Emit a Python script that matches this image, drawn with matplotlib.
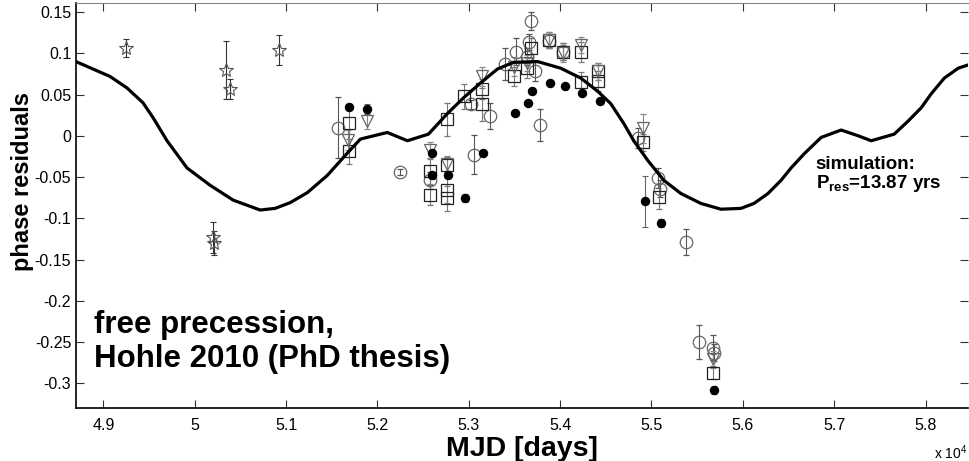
import matplotlib
matplotlib.use("Agg")
import matplotlib.pyplot as plt

plt.rcParams['font.family'] = ['Liberation Sans', 'DejaVu Sans']
plt.rcParams['mathtext.fontset'] = 'custom'
plt.rcParams['mathtext.rm'] = 'Liberation Sans:bold'

# simulation curve (P_res = 13.87 yrs)
sim_mjd = [48698, 49071, 49258, 49433, 49543, 49696, 49915, 50168, 50420, 50716,
           50880, 51045, 51231, 51451, 51670, 51813, 52032, 52108, 52328, 52558,
           52766, 52942, 53128, 53314, 53490, 53753, 54005, 54225, 54411, 54554,
           54696, 54806, 54960, 55135, 55322, 55541, 55760, 55980, 56122, 56275,
           56418, 56528, 56670, 56857, 57076, 57263, 57405, 57657, 57811, 57953,
           58063, 58206, 58359, 58469]
sim_res = [0.090, 0.072, 0.058, 0.040, 0.022, -0.006, -0.039, -0.060, -0.078, -0.090,
           -0.088, -0.081, -0.069, -0.048, -0.021, -0.004, 0.002, 0.004, -0.006, 0.002,
           0.027, 0.046, 0.064, 0.081, 0.089, 0.090, 0.082, 0.070, 0.054, 0.039,
           0.015, -0.006, -0.030, -0.054, -0.070, -0.082, -0.089, -0.088, -0.082, -0.070,
           -0.054, -0.039, -0.022, -0.002, 0.007, 0.000, -0.006, 0.002, 0.018, 0.034,
           0.051, 0.070, 0.082, 0.086]

# stars
star_mjd = [49247, 50197, 50212, 50343, 50387, 50917]
star_res = [0.106, -0.123, -0.130, 0.080, 0.057, 0.104]
star_err = [0.011, 0.019, 0.015, 0.035, 0.012, 0.018]

# open circles
circ_mjd = [51568, 52251, 52580, 53019, 53062, 53230, 53391, 53512, 53640, 53658, 53677,
            53720, 53779, 53874, 54035, 54853, 55072, 55094, 55376, 55522, 55669, 55680]
circ_res = [0.010, -0.044, -0.054, 0.038, -0.023, 0.024, 0.087, 0.102, 0.096, 0.114, 0.139,
            0.078, 0.013, 0.115, 0.102, -0.003, -0.051, -0.064, -0.1285, -0.250, -0.257, -0.263]
circ_err = [0.037, 0.004, 0.010, 0.006, 0.0235, 0.016, 0.019, 0.016, 0.010, 0.010, 0.011,
            0.012, 0.019, 0.008, 0.010, 0.012, 0.012, 0.010, 0.016, 0.021, 0.015, 0.010]

# open squares
sq_mjd = [51689, 51689, 52580, 52580, 52763, 52763, 52763, 52763, 52945, 53147, 53147, 53493,
          53640, 53677, 53874, 54035, 54225, 54225, 54415, 54415, 54912, 55083, 55669]
sq_res = [0.016, -0.019, -0.043, -0.072, -0.036, -0.066, -0.076, 0.020, 0.048, 0.057, 0.038, 0.072,
          0.082, 0.106, 0.116, 0.102, 0.102, 0.065, 0.078, 0.066, -0.008, -0.074, -0.287]
sq_err = [0.020, 0.015, 0.015, 0.012, 0.010, 0.015, 0.015, 0.020, 0.015, 0.012, 0.020, 0.012,
          0.012, 0.012, 0.010, 0.010, 0.012, 0.012, 0.010, 0.012, 0.010, 0.015, 0.008]

# downward triangles
tri_mjd = [51678, 51886, 52580, 52763, 53147, 53493, 53640, 53874, 54035, 54225, 54415, 54912, 55669]
tri_res = [-0.005, 0.018, -0.017, -0.034, 0.072, 0.084, 0.088, 0.116, 0.100, 0.110, 0.078, 0.009, -0.271]
tri_err = [0.012, 0.010, 0.010, 0.010, 0.012, 0.012, 0.010, 0.010, 0.010, 0.010, 0.010, 0.018, 0.010]

# filled circles
dot_mjd = [51689, 51886, 52599, 52599, 52770, 52953, 53156, 53501, 53651, 53695, 53885,
           54049, 54243, 54433, 54927, 55102, 55680]
dot_res = [0.035, 0.032, -0.021, -0.048, -0.047, -0.0755, -0.021, 0.028, 0.040, 0.054, 0.064,
           0.060, 0.052, 0.042, -0.0795, -0.106, -0.308]
dot_err = [0.004, 0.006, 0.004, 0.004, 0.004, 0.005, 0.003, 0.003, 0.003, 0.003, 0.003,
           0.003, 0.003, 0.003, 0.031, 0.005, 0.005]

xticks = [49000, 50000, 51000, 52000, 53000, 54000, 55000, 56000, 57000, 58000]
xtick_labels = ['4.9', '5', '5.1', '5.2', '5.3', '5.4', '5.5', '5.6', '5.7', '5.8']
yticks = [-0.3, -0.25, -0.2, -0.15, -0.1, -0.05, 0, 0.05, 0.1, 0.15]
ytick_labels = ['-0.3', '-0.25', '-0.2', '-0.15', '-0.1', '-0.05', '0', '0.05', '0.1', '0.15']

fig = plt.figure(figsize=(9.7, 4.61), dpi=100)
ax = fig.add_axes([0.0784, 0.115, 0.92, 0.8785])

eb = dict(linestyle='none', capsize=2.5, elinewidth=0.8, capthick=0.8)
ax.errorbar(star_mjd, star_res, yerr=star_err, marker='*', ms=10, mfc='none', mec='#555555',
            mew=0.8, ecolor='#333333', **eb)
ax.errorbar(circ_mjd, circ_res, yerr=circ_err, marker='o', ms=9, mfc='none', mec='#666666',
            mew=0.9, ecolor='#555555', **eb)
ax.errorbar(sq_mjd, sq_res, yerr=sq_err, marker='s', ms=8, mfc='none', mec='#222222',
            mew=0.9, ecolor='#777777', **eb)
ax.errorbar(tri_mjd, tri_res, yerr=tri_err, marker='v', ms=9, mfc='none', mec='#666666',
            mew=0.9, ecolor='#888888', **eb)
ax.errorbar(dot_mjd, dot_res, yerr=dot_err, marker='o', ms=5.8, mfc='black', mec='black',
            ecolor='#666666', **eb)

ax.plot(sim_mjd, sim_res, color='black', linewidth=2.3, zorder=5)

ax.set_xlim(48700, 58470)
ax.set_ylim(-0.33, 0.161)
ax.set_xticks(xticks)
ax.set_xticklabels(xtick_labels, fontsize=11.5)
ax.set_yticks(yticks)
ax.set_yticklabels(ytick_labels, fontsize=11.5)
ax.tick_params(direction='in', length=6, width=0.8, top=True, right=True, colors='#333333',
               labelcolor='black')
ax.tick_params(axis='x', pad=7)
for side in ['left', 'bottom']:
    ax.spines[side].set_linewidth(1.2)
    ax.spines[side].set_color('black')
ax.spines['top'].set_color('#888888')
ax.spines['right'].set_visible(False)

ax.set_xlabel('MJD [days]', fontsize=20.5, fontweight='bold')
ax.xaxis.set_label_coords(0.5, -0.068)
ax.set_ylabel('phase residuals', fontsize=17, fontweight='bold')
ax.yaxis.set_label_coords(-0.047, 0.56)

ax.text(0.999, -0.11, r'x 10$^{\mathregular{4}}$', transform=ax.transAxes, ha='right',
        va='center', fontsize=10)

ax.text(0.02, 0.163, 'free precession,\nHohle 2010 (PhD thesis)', transform=ax.transAxes,
        fontsize=22.5, fontweight='bold', ha='left', va='center', linespacing=1.15)
ax.text(0.829, 0.575, 'simulation:\nP$_{\\rm res}$=13.87 yrs', transform=ax.transAxes,
        fontsize=13.5, fontweight='bold', ha='left', va='center', linespacing=1.0)

fig.savefig('out.png', dpi=100)
